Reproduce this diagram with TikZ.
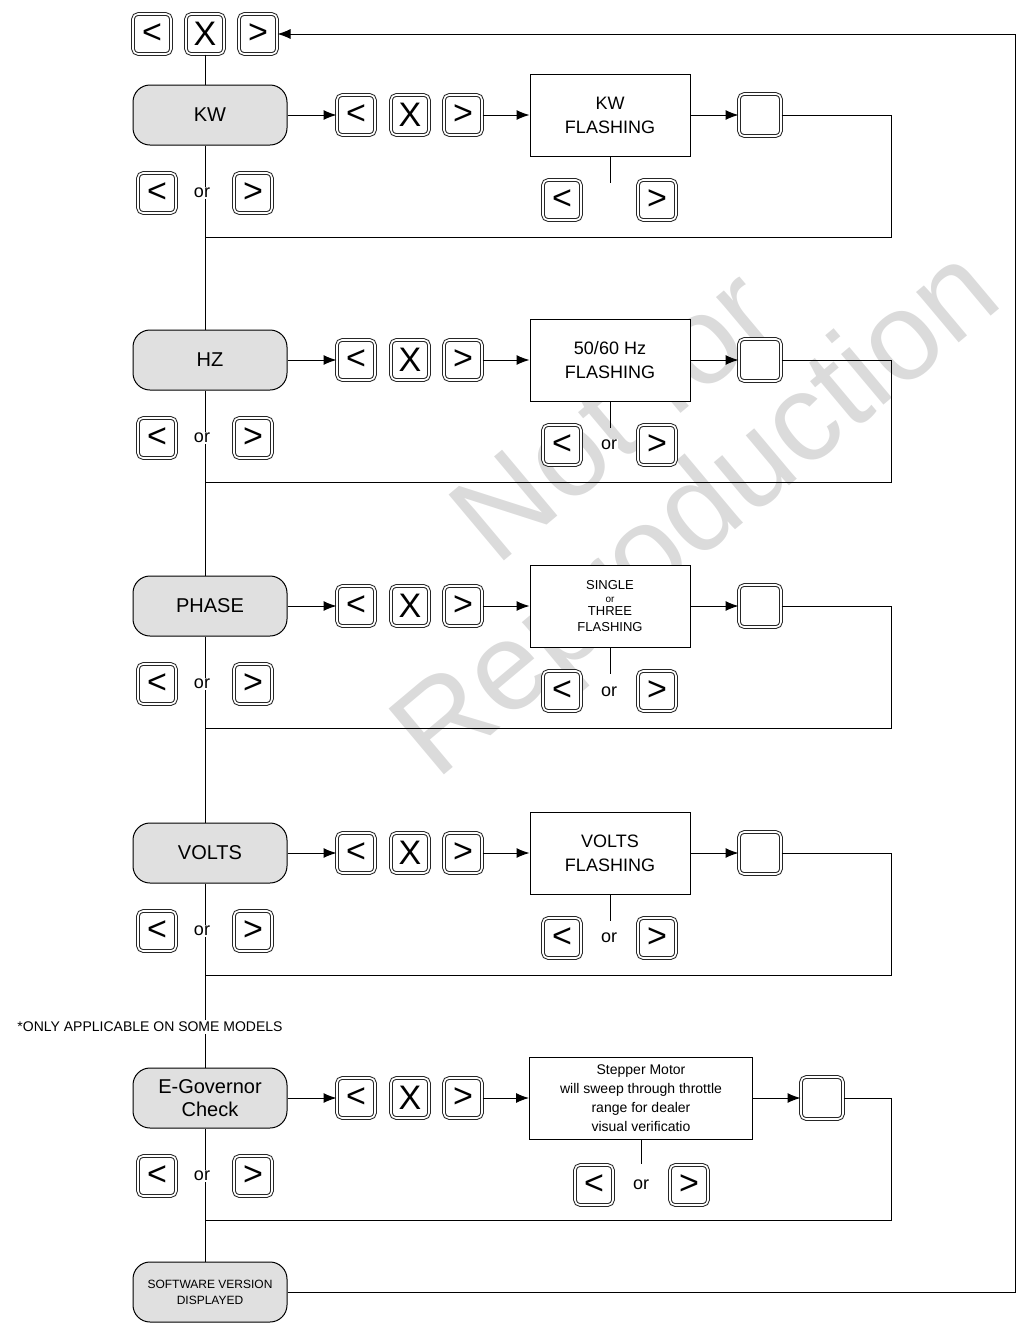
\documentclass[tikz,border=0pt]{standalone}
\usepackage{fontspec}
\setmainfont{Liberation Sans}
\usetikzlibrary{arrows.meta}
\begin{document}
\begin{tikzpicture}[x=1pt,y=-1pt,
 btn/.style={draw=black!85,double=white,double distance=1.6pt,line width=1pt,rounded corners=5pt,minimum width=38pt,minimum height=40pt,inner sep=0pt,font=\fontsize{34}{34}\selectfont,fill=white},
 sq/.style={btn,minimum width=42pt,minimum height=42pt},
 pill/.style={draw,line width=1pt,fill=black!12,rounded corners=17pt,minimum width=154pt,minimum height=60pt,align=center,font=\fontsize{20}{23}\selectfont},
 disp/.style={draw,line width=1pt,fill=white,minimum width=160pt,minimum height=82pt,align=center,font=\fontsize{18}{24}\selectfont},
 ortxt/.style={fill=white,inner sep=1pt,font=\fontsize{18}{18}\selectfont},
 ln/.style={line width=1pt},
 ar/.style={ln,-{Latex[length=13pt,width=10pt]}}]
\useasboundingbox (0,0) rectangle (1023,1326);
\node[rotate=40,text=black!14,font=\fontsize{125}{125}\selectfont,align=center] at (660,470) {Not for\\Reproduction};
% top buttons
\node[btn] (t1) at (152,34) {<};
\node[btn] (t2) at (205,34) {X};
\node[btn] (t3) at (258,34) {>};
\node[pill] (p1) at (210,115) {KW};
\node[pill] (p2) at (210,360) {HZ};
\node[pill] (p3) at (210,606) {PHASE};
\node[pill] (p4) at (210,853) {VOLTS};
\node[pill] (p5) at (210,1098) {E-Governor\\Check};
\node[pill,font=\fontsize{12}{16}\selectfont] (p6) at (210,1292) {SOFTWARE VERSION\\DISPLAYED};
% main vertical line
\draw[ln] (t2.south) -- (t2.south|-p1.north);
\foreach \i/\j in {1/2,2/3,3/4,4/5,5/6}{\draw[ln] (t2.south|-p\i.south) -- (t2.south|-p\j.north);}
\node[font=\fontsize{14}{14}\selectfont,fill=white,inner sep=2pt] (note) at (150,1027) {*ONLY APPLICABLE ON SOME MODELS};
% rows
\foreach \r/\y/\txt in {1/115/{KW\\FLASHING}, 2/360/{50/60 Hz\\FLASHING}, 3/606/{}, 4/853/{VOLTS\\FLASHING}}{
 \node[btn] (a\r) at (356,\y) {<};
 \node[btn] (b\r) at (410,\y) {X};
 \node[btn] (c\r) at (463,\y) {>};
 \node[disp] (d\r) at (610,\y) {\txt};
 \node[sq] (s\r) at (760,\y) {};
 \draw[ar] (p\r) -- (a\r);
 \draw[ar] (c\r) -- (d\r);
 \draw[ar] (d\r) -- (s\r);
 \draw[ln] (s\r.east) -- (891,\y) -- (891,\y+122) -- (205,\y+122);
 \node[btn] (l\r) at (157,\y+78) {<};
 \node[ortxt] (o\r) at (202,\y+78) {or};
 \node[btn] (g\r) at (253,\y+78) {>};
 \draw[ln] (d\r.south) -- ++(0,26);
 \node[btn] (m\r) at (562,\y+85) {<};
 \node[btn] (n\r) at (657,\y+85) {>};
}
\node[font=\fontsize{13}{16}\selectfont,align=center] at (d3) {SINGLE\\[-3pt]{\fontsize{10}{10}\selectfont or}\\[-3pt]THREE\\FLASHING};
\node[ortxt] (q2) at (609,445) {or};
\node[ortxt] (q3) at (609,692) {or};
\node[ortxt] (q4) at (609,938) {or};
% row 5
\node[btn] (a5) at (356,1098) {<};
\node[btn] (b5) at (410,1098) {X};
\node[btn] (c5) at (463,1098) {>};
\node[disp,minimum width=223pt,font=\fontsize{14}{19}\selectfont] (d5) at (641,1098) {Stepper Motor\\will sweep through throttle\\range for dealer\\visual verificatio};
\node[sq] (s5) at (822,1098) {};
\draw[ar] (p5) -- (a5);
\draw[ar] (c5) -- (d5);
\draw[ar] (d5) -- (s5);
\draw[ln] (s5.east) -- (891,1098) -- (891,1220) -- (205,1220);
\node[btn] (l5) at (157,1176) {<};
\node[ortxt] (o5) at (202,1176) {or};
\node[btn] (g5) at (253,1176) {>};
\draw[ln] (d5.south) -- ++(0,24);
\node[btn] (m5) at (594,1185) {<};
\node[ortxt] (q5) at (641,1185) {or};
\node[btn] (n5) at (689,1185) {>};
% return loop
\draw[ar] (p6.east) -- (1015,1292) -- (1015,34) -- (t3.east);
\end{tikzpicture}
\end{document}
